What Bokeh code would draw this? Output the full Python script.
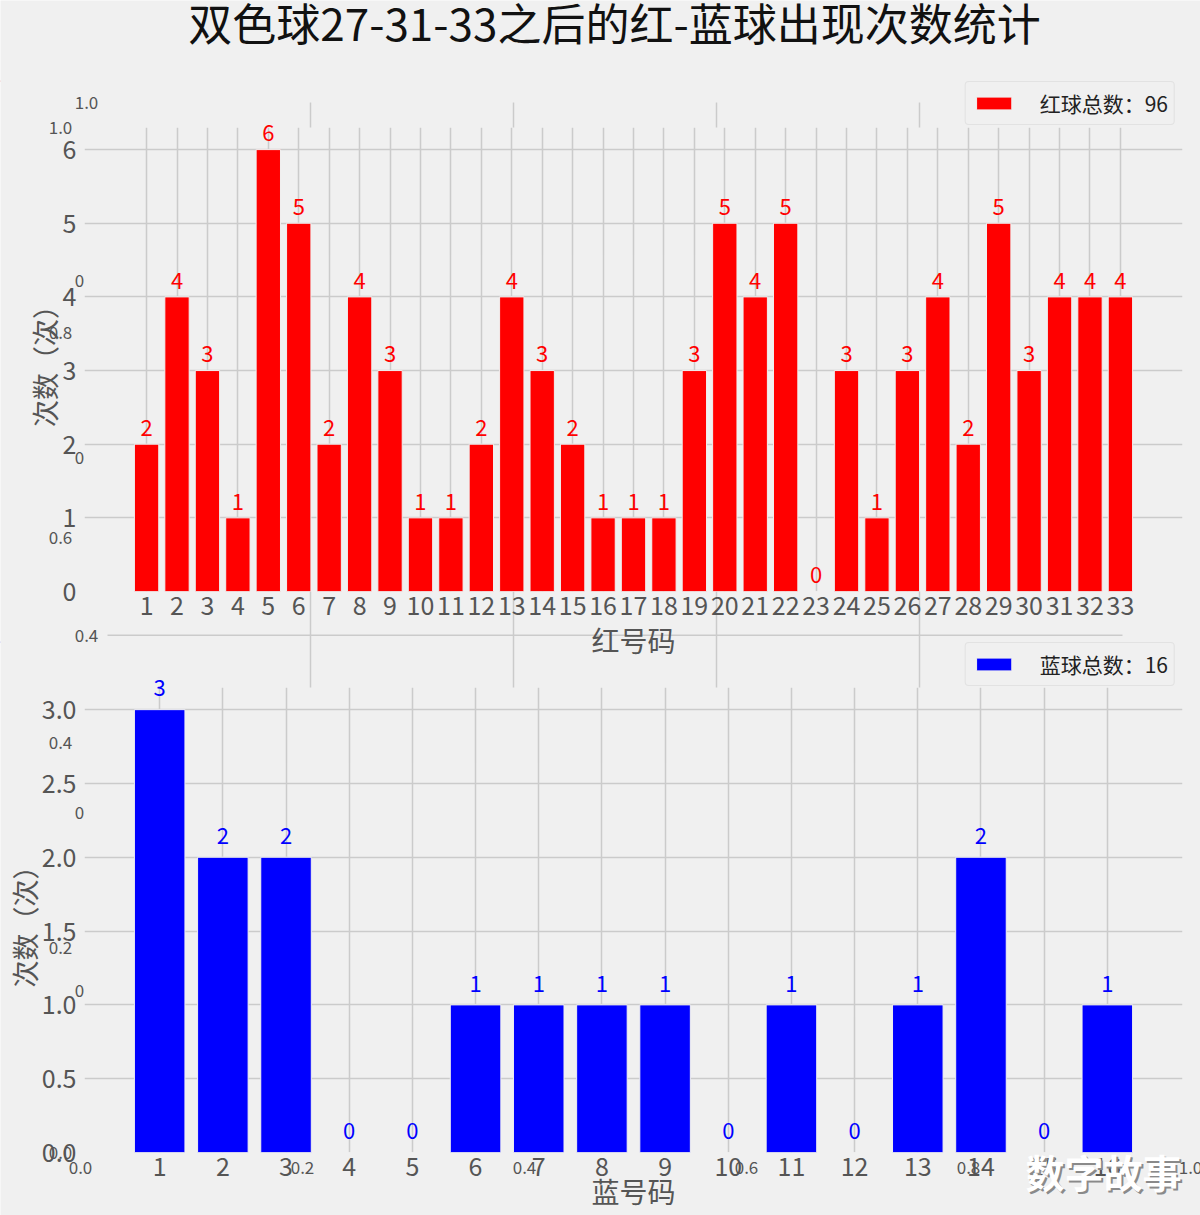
from bokeh.plotting import figure
from bokeh.layouts import column
from bokeh.models import (Range1d, FixedTicker, PrintfTickFormatter, Legend, LegendItem,
                          Label, LabelSet, ColumnDataSource)
from bokeh.embed import file_html
from bokeh.resources import INLINE
from bokeh.core.properties import value

# ---------------- data ----------------
title_text = "双色球27-31-33之后的红-蓝球出现次数统计"
red_numbers = list(range(1, 34))
red_counts = [2, 4, 3, 1, 6, 5, 2, 4, 3, 1, 1, 2, 4, 3, 2, 1, 1, 1, 3, 5, 4, 5, 0,
              3, 1, 3, 4, 2, 5, 3, 4, 4, 4]
blue_numbers = list(range(1, 17))
blue_counts = [3, 2, 2, 0, 0, 1, 1, 1, 1, 0, 1, 0, 1, 2, 0, 1]
red_ticks = [0, 1, 2, 3, 4, 5, 6]
blue_ticks = [0.0, 0.5, 1.0, 1.5, 2.0, 2.5, 3.0]
red_xlabel = "红号码"
blue_xlabel = "蓝号码"
y_label = "次数（次）"
red_legend = "红球总数：" + str(sum(red_counts))
blue_legend = "蓝球总数：" + str(sum(blue_counts))
watermark = "数字故事"
# tick values of the empty background axes that show through in the original
bg_fracs = [0.0, 0.2, 0.4, 0.6, 0.8, 1.0]

FONT = "Noto Sans CJK SC"
BG = "#f0f0f0"
GRID = "#cbcbcb"
TXT = "#555555"
RED = "#ff0000"
BLUE = "#0000ff"
W, H = 1200, 1215
FL, FR = 84, 18                    # frame left / right borders
# vertical layout (px from the page top)
P1_TOP, P1_FT, P1_FB, P1_H = 0, 127, 591, 668
P2_TOP, P2_FT, P2_FB = 639, 687, 1152
P2_H = H - P2_TOP
L1_TOP, L2_TOP, L_H = 80, 641, 46
V1_TOP, V2_TOP = 110, 655
WM_TOP, WM_H = 1150, 50
RED_YMAX, BLUE_YMAX = 6.3, 3.15
RED_LIFT, BLUE_LIFT = 0.11, 0.09


def kill_align(p):
    if "frame_align" in p.properties():
        p.frame_align = False


def bare(height, x_range=None, y_range=None, left=0, right=0):
    p = figure(width=W, height=height,
               x_range=x_range if x_range is not None else Range1d(0, W),
               y_range=y_range if y_range is not None else Range1d(height, 0),
               x_axis_type=None, y_axis_type=None, title=None,
               output_backend="svg", toolbar_location=None,
               min_border=0, min_border_left=left, min_border_right=right,
               min_border_top=0, min_border_bottom=0)
    p.background_fill_alpha = 0.0
    p.border_fill_alpha = 0.0
    p.outline_line_color = None
    kill_align(p)
    return p


def style(p):
    p.background_fill_color = BG
    p.border_fill_color = BG
    p.border_fill_alpha = 0.0
    p.outline_line_color = None
    for ax in p.axis:
        ax.axis_line_color = None
        ax.major_tick_line_color = None
        ax.minor_tick_line_color = None
        ax.major_tick_out = 0
        ax.major_tick_in = 0
        ax.major_label_text_font = FONT
        ax.major_label_text_font_size = "25px"
        ax.major_label_text_color = TXT
        ax.axis_label_text_font = FONT
        ax.axis_label_text_font_size = "27px"
        ax.axis_label_text_color = TXT
        ax.axis_label_text_font_style = "normal"
    p.xaxis.major_label_standoff = 4
    p.yaxis.major_label_standoff = 8
    p.grid.grid_line_color = GRID
    p.grid.grid_line_width = 1.5
    kill_align(p)


def legend_strip(color, text):
    p = bare(L_H)
    # a swatch renderer lying outside the strip's visible range, used only by the legend
    r = p.vbar(x=[-100], top=[1], width=0.8, fill_color=color, line_color=BG, line_width=1)
    leg = Legend(items=[LegendItem(label=text, renderers=[r])], location="right",
                 orientation="vertical",
                 background_fill_color=BG, background_fill_alpha=1.0,
                 border_line_color="#d3d3d3", border_line_width=1,
                 label_text_font=FONT, label_text_font_size="21px", label_text_color="#222222",
                 glyph_width=44, glyph_height=16, label_standoff=24, padding=6, margin=25,
                 spacing=0, label_height=20)
    if "border_radius" in leg.properties():
        leg.border_radius = 4
    p.add_layout(leg)
    return p


def value_layer(x_range, ymax, frame_top, frame_bottom, frame_h, src, color):
    h = frame_bottom - frame_top
    p = bare(h, x_range=x_range, y_range=Range1d(0, ymax * h / frame_h), left=FL, right=FR)
    p.add_layout(LabelSet(x="x", y="ly", text="lt", source=src, text_align="center",
                          text_baseline="alphabetic", text_font=value(FONT),
                          text_font_size="22px", text_color=color))
    return p


# ---------------- background layer (figure face, title, hidden axes) ----------------
pb = bare(H)
pb.background_fill_color = BG
pb.background_fill_alpha = 1.0
pb.border_fill_color = BG
pb.border_fill_alpha = 1.0

A_l, A_r, A_t, A_b = 107, 1122, 102, 990
B_l, B_r, B_t, B_b = 80, 1190, 127, 1152
inner = bg_fracs[1:-1]
pb.segment(x0=[A_l + f * (A_r - A_l) for f in inner], y0=[A_t] * len(inner),
           x1=[A_l + f * (A_r - A_l) for f in inner], y1=[A_b] * len(inner),
           line_color=GRID, line_width=1.5)
pb.segment(x0=[A_l] * len(inner), y0=[A_b - f * (A_b - A_t) for f in inner],
           x1=[A_r] * len(inner), y1=[A_b - f * (A_b - A_t) for f in inner],
           line_color=GRID, line_width=1.5)
fl = ["%.1f" % f for f in bg_fracs]
bg_txt = dict(text_font=value(FONT), text_font_size="17px", text_color=TXT,
              text_align="center", text_baseline="middle")
pb.text(x=[86] * 6, y=[A_b - f * (A_b - A_t) for f in bg_fracs], text=fl, **bg_txt)
pb.text(x=[60] * 6, y=[B_b - f * (B_b - B_t) for f in bg_fracs], text=fl, **bg_txt)
pb.text(x=[B_l + f * (B_r - B_l) for f in bg_fracs], y=[1167] * 6, text=fl, **bg_txt)
pb.add_layout(Label(x=614, y=21, text=title_text, text_align="center",
                    text_baseline="middle", text_font=FONT, text_font_size="44px",
                    text_color="#111111"))

# ---------------- top chart ----------------
p1 = figure(width=W, height=P1_H, x_range=Range1d(-1.04, 35.04),
            y_range=Range1d(0, RED_YMAX),
            title=None, output_backend="svg", toolbar_location=None,
            min_border_left=FL, min_border_right=FR, min_border_top=P1_FT - P1_TOP,
            min_border_bottom=P1_TOP + P1_H - P1_FB)
src1 = ColumnDataSource(dict(x=red_numbers, top=red_counts,
                             ly=[c + RED_LIFT for c in red_counts],
                             lt=[str(c) for c in red_counts]))
p1.vbar(x="x", top="top", width=0.8, source=src1, fill_color=RED,
        line_color=BG, line_width=1)
style(p1)
p1.xaxis.ticker = FixedTicker(ticks=red_numbers)
p1.yaxis.ticker = FixedTicker(ticks=red_ticks)
p1.xaxis.axis_label = red_xlabel
p1.xaxis.axis_label_text_font_size = "28px"
p1.xaxis.axis_label_standoff = 2
p1.yaxis.axis_label = y_label
p1.yaxis.axis_label_standoff = -4

# ---------------- bottom chart ----------------
p2 = figure(width=W, height=P2_H, x_range=Range1d(-0.19, 17.19),
            y_range=Range1d(0, BLUE_YMAX),
            title=None, output_backend="svg", toolbar_location=None,
            min_border_left=FL, min_border_right=FR, min_border_top=P2_FT - P2_TOP,
            min_border_bottom=P2_TOP + P2_H - P2_FB)
src2 = ColumnDataSource(dict(x=blue_numbers, top=blue_counts,
                             ly=[c + BLUE_LIFT for c in blue_counts],
                             lt=[str(c) for c in blue_counts]))
p2.vbar(x="x", top="top", width=0.8, source=src2, fill_color=BLUE,
        line_color=BG, line_width=1)
style(p2)
p2.xaxis.ticker = FixedTicker(ticks=blue_numbers)
p2.yaxis.ticker = FixedTicker(ticks=blue_ticks)
p2.yaxis.formatter = PrintfTickFormatter(format="%.1f")
p2.xaxis.axis_label = blue_xlabel
p2.xaxis.axis_label_text_font_size = "28px"
p2.xaxis.axis_label_standoff = -8
p2.yaxis.axis_label = y_label
p2.yaxis.axis_label_standoff = -5

# ---------------- overlays ----------------
pl1 = legend_strip(RED, red_legend)
pl2 = legend_strip(BLUE, blue_legend)
pv1 = value_layer(p1.x_range, RED_YMAX, V1_TOP, P1_FB, P1_FB - P1_FT, src1, RED)
pv2 = value_layer(p2.x_range, BLUE_YMAX, V2_TOP, P2_FB, P2_FB - P2_FT, src2, BLUE)
pw = bare(WM_H)
pw.add_layout(Label(x=1105, y=22, text=watermark, text_align="center", text_baseline="middle",
                    text_font=FONT, text_font_size="39px", text_font_style="bold",
                    text_color="#8a8a8a"))
pw.add_layout(Label(x=1103, y=20, text=watermark, text_align="center", text_baseline="middle",
                    text_font=FONT, text_font_size="39px", text_font_style="bold",
                    text_color="#ffffff"))

# stack everything on the same page area with negative top margins
stack = [(pb, 0, H), (pl1, L1_TOP, L_H), (p1, P1_TOP, P1_H), (pv1, V1_TOP, P1_FB - V1_TOP),
         (pl2, L2_TOP, L_H), (p2, P2_TOP, P2_H), (pv2, V2_TOP, P2_FB - V2_TOP),
         (pw, WM_TOP, WM_H)]
flow = 0
for i, (fig, top, h) in enumerate(stack):
    bottom_margin = H - (top + h) if i == len(stack) - 1 else 0
    fig.margin = (top - flow, 0, bottom_margin, 0)
    flow = top + h

layout = column(*[s[0] for s in stack], spacing=0)
open("out.html", "w").write(file_html(layout, INLINE))
